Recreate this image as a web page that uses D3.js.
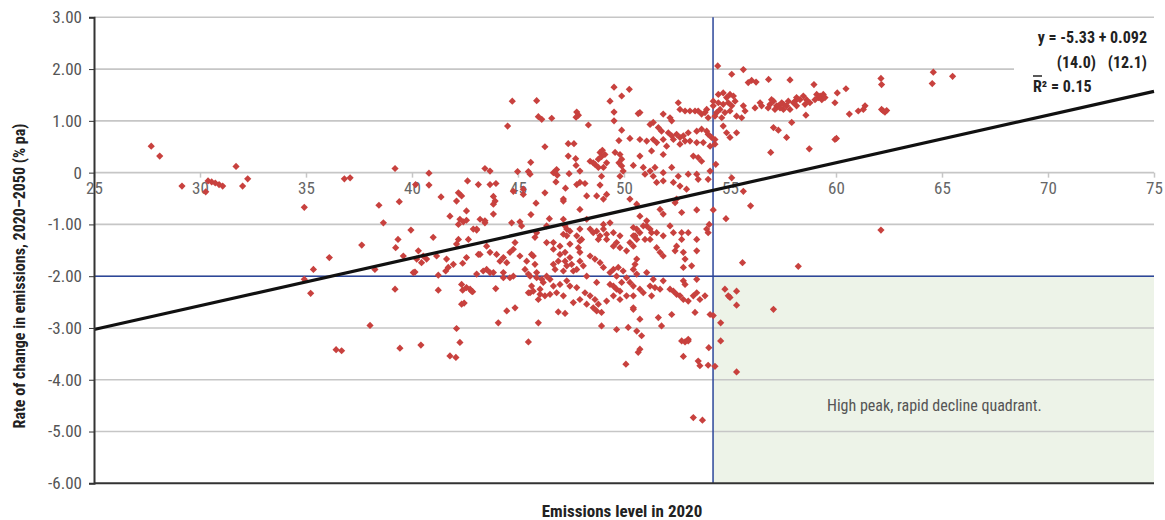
<!DOCTYPE html>
<html>
<head>
<meta charset="utf-8">
<script src="https://cdn.jsdelivr.net/npm/d3@7"></script>
<style>
  body { margin: 0; background: #fff; }
  svg text { font-family: "Liberation Sans Narrow", "Arial Narrow", "Roboto Condensed", sans-serif; }
</style>
</head>
<body>
<div id="chart"></div>
<script>
// axis ticks
const xTicks = [25, 30, 35, 40, 45, 50, 55, 60, 65, 70, 75];
const yTicks = [3, 2, 1, 0, -1, -2, -3, -4, -5, -6];

// regression + quadrant thresholds
const intercept = -5.33;
const slope = 0.092;
const threshX = 54.2;
const threshY = -2;

// emissions level in 2020 vs rate of change 2020-2050
const lowGroup = [
  [27.7,0.51],[28.1,0.32],[29.15,-0.26],[30.38,-0.16],[30.55,-0.18],[30.72,-0.2],[30.9,-0.23],[31.07,-0.26],
  [30.27,-0.37],[31.7,0.12],[32.01,-0.26],[32.25,-0.12],[34.92,-0.67],[36.81,-0.12],[37.08,-0.1],[39.2,0.08],
  [38.44,-0.63],[38.65,-0.97],[37.63,-1.4],[39.4,-0.56],[39.34,-1.29],[39.23,-1.45],[36.1,-1.64],[34.92,-2.06],
  [35.35,-1.87],[35.22,-2.33],[38.02,-2.95],[38.25,-1.87],[39.2,-2.25],[36.42,-3.42],[36.68,-3.44],[39.43,-3.39],
  [41.24,-2.27],[42.39,-2.27],[42.86,-2.3],[42.34,-2.54],[42.46,-2.52],[40.42,-3.33],[42.1,-3.01],[42.26,-3.28],
  [41.79,-3.54],[42.07,-3.57],[40.8,-0.01],[40.8,-0.24],[40.17,-0.23],[41.37,-0.47],[42.62,-0.16],[42.19,-0.39],
  [42.34,-0.45],[42.1,-0.55],[42.57,-0.74],[41.79,-0.84],[42.26,-0.9],[42.42,-0.95],[42.57,-0.92],[42.19,-1.0],
  [43.05,-1.11],[39.95,-1.11],[41.0,-1.25],[39.59,-1.61],[40.3,-1.51],[40.53,-1.61],[40.22,-1.67],[40.69,-1.67],
  [40.45,-1.74],[41.16,-1.61],[40.14,-1.92],[41.24,-1.98],[41.63,-1.67],[41.95,-1.77],[42.39,-1.75],[42.57,-1.64],
  [42.19,-1.29],[42.1,-1.38],[43.13,-1.58],[41.59,-1.9],[43.05,-1.96],[42.34,-2.16],[42.57,-2.22],[42.81,-2.29],
  [40.06,-1.93],[41.71,-1.83],[43.52,-1.87],[43.84,-1.93],[44.31,-1.93],[44.78,-2.0],[45.09,-1.61],[45.41,-1.71],
  [45.72,-1.61],[46.12,-2.06],[48.24,-2.0],[48.71,-2.12],[51.07,-1.93],[51.38,-2.06],[43.95,-2.24],[45.49,-3.27],
  [42.66,-1.29],[42.89,-1.09],[43.21,-0.9],[43.44,-0.97],[43.52,-1.42],[43.68,-1.54]
];

const midGroup = [
  [44.73,1.38],[45.88,1.39],[44.51,0.9],[45.96,1.08],[46.12,1.03],[46.59,1.05],[47.77,1.17],[47.85,1.11],
  [47.74,1.07],[48.32,0.92],[49.53,1.65],[50.25,1.61],[49.89,1.48],[49.34,1.38],[49.53,1.17],[49.53,1.0],
  [50.67,1.14],[49.89,0.82],[50.28,0.66],[49.76,0.62],[46.27,0.5],[47.37,0.56],[47.64,0.56],[47.37,0.32],
  [47.72,0.27],[47.74,0.14],[47.92,0.03],[45.6,0.2],[45.49,0.02],[45.57,-0.03],[44.98,0.02],[43.44,0.08],
  [43.68,0.03],[43.13,-0.23],[43.68,-0.23],[43.96,-0.21],[46.82,0.06],[46.85,-0.05],[47.41,-0.02],[47.77,-0.23],
  [47.92,-0.19],[48.16,-0.21],[48.4,0.22],[48.63,0.16],[48.79,0.26],[48.94,0.31],[49.1,0.35],[48.79,0.1],
  [49.03,0.1],[48.94,-0.07],[48.98,0.43],[49.58,0.39],[49.81,0.35],[49.89,0.26],[49.76,0.19],[49.89,0.13],
  [49.96,0.03],[49.81,-0.07],[50.44,0.14],[46.27,-0.39],[47.24,-0.3],[48.87,-0.24],[44.78,-0.36],[45.25,-0.42],
  [43.84,-0.46],[46.67,0.0],[46.79,-0.18],[48.87,0.39],[49.18,0.19],[48.55,0.19],[48.24,-0.45],[47.92,-0.71],
  [48.24,-0.9],[47.14,-0.51],[47.14,-0.9],[45.25,-0.32],
  [43.92,-0.55],[43.84,-0.61],[43.84,-0.8],[43.44,-0.93],[43.05,-1.09],[45.85,-0.59],[47.14,-0.55],[45.61,-0.81],
  [46.48,-0.89],[44.7,-0.97],[45.09,-0.95],[45.17,-1.03],[44.86,-1.35],[44.78,-1.48],[44.62,-1.54],[43.99,-1.58],
  [44.15,-1.71],[44.31,-1.64],[44.47,-1.74],[43.21,-1.58],[43.36,-1.9],[43.68,-1.93],[44.31,-2.03],[44.62,-2.03],
  [42.74,-2.25],[45.64,-1.58],[45.8,-1.77],[45.33,-1.87],[45.49,-1.96],[45.88,-1.93],[46.35,-1.35],[46.67,-1.48],
  [46.98,-1.58],[47.22,-1.54],[47.45,-1.64],[47.22,-1.71],[47.3,-1.8],[47.53,-1.77],[47.61,-1.9],[47.14,-1.9],
  [46.9,-1.71],[46.67,-1.77],[46.75,-1.87],[46.35,-2.0],[46.51,-2.06],[46.19,-2.12],[46.67,-2.19],[46.98,-2.16],
  [47.3,-2.09],[47.45,-2.19],[47.77,-2.22],[46.82,-2.32],[47.14,-2.38],[45.57,-2.0],[45.88,-2.03],[45.64,-2.19],
  [46.04,-2.25],[45.57,-2.32],[45.96,-2.45],[44.47,-2.67],[44.86,-2.61],[44.07,-2.9],[45.96,-2.9],[46.9,-2.69],
  [47.22,-2.72],[48.16,-2.32],[47.92,-2.45],[48.4,-2.38],[48.24,-2.54],[48.63,-2.45],[48.79,-2.54],[48.55,-2.61],
  [48.71,-2.67],[48.94,-2.7],[47.61,-2.51],[47.92,-1.71],[48.08,-1.8],[47.77,-1.87],[48.4,-1.61],[48.63,-1.67],
  [48.87,-1.74],[49.03,-1.83],[49.34,-1.93],[49.5,-1.87],[49.73,-1.83],[49.96,-1.9],[49.65,-2.0],[50.12,-2.03],
  [49.89,-2.12],[49.34,-2.16],[49.65,-2.25],[49.5,-2.38],[49.18,-2.48],[50.44,-1.87],[50.6,-1.96],[50.44,-2.38],
  [50.44,-2.64],[48.94,-2.96],[49.65,-3.03],[50.2,-2.99],[48.71,-0.45],[49.03,-0.51],[49.18,-0.42],[50.28,-0.51],
  [50.6,-0.61],[48.4,-1.09],[48.71,-1.13],[48.87,-1.22],[49.18,-1.29],[49.5,-1.16],[49.65,-1.35],[49.81,-1.45],
  [50.12,-1.51],[49.03,-1.0],[49.34,-0.97],[47.92,-1.32],[47.85,-1.45],[47.3,-1.09],[47.14,-1.19],[47.45,-1.38],
  [50.44,-1.06],[50.52,-1.22],[50.28,-1.35],[45.8,-1.25],[45.88,-1.16],[46.35,-1.03],[46.67,-1.35],[46.98,-1.42],
  [47.22,-1.03],[47.45,-1.13],[47.3,-1.22],[47.77,-1.22],[47.92,-1.09],[48.0,-1.29],[47.92,-1.54],[48.55,-1.16],
  [48.79,-1.29],[49.03,-1.09],[49.18,-1.19],[49.5,-1.42],[49.81,-1.22],[45.49,-2.32],[45.72,-2.29],[46.04,-2.35],
  [46.27,-2.38],[46.51,-2.35],[49.5,-2.19],[49.81,-2.29],[50.12,-2.38],[49.81,-2.45],[50.09,-3.7]
];

const highGroup = [
  [50.44,-1.42],[50.6,-1.29],[50.75,-1.16],[51.07,-1.03],[51.23,-1.29],[51.54,-1.16],[51.85,-1.22],[52.17,-1.03],
  [52.33,-1.16],[52.48,-1.42],[52.8,-1.54],[53.03,-1.16],[53.43,-1.29],[53.9,-1.09],
  [54.42,2.06],[55.08,1.9],[55.63,1.99],[55.86,1.74],[56.02,1.78],[56.23,1.75],[56.82,1.8],[57.83,1.79],
  [56.18,1.25],[56.49,1.29],[56.89,1.32],[57.05,1.38],[57.2,1.29],[57.44,1.35],[57.52,1.22],[57.67,1.29],
  [57.83,1.22],[58.07,1.38],[58.14,1.29],[57.05,0.87],[57.28,0.82],[57.91,0.97],[57.67,0.68],[56.92,0.39],
  [54.45,1.51],[54.68,1.54],[54.84,1.45],[55.0,1.51],[55.16,1.48],[54.45,1.35],[54.68,1.32],[54.92,1.35],
  [55.08,1.29],[55.24,1.38],[54.53,1.22],[54.76,1.16],[55.0,1.19],[55.31,1.09],[54.61,1.06],[54.37,1.16],
  [54.21,1.29],[54.29,1.09],[55.63,1.29],[55.71,1.19],[55.55,1.06],[54.68,0.9],[54.84,0.77],[55.0,0.68],
  [55.31,0.77],[54.29,0.55],[54.33,0.16],[55.08,-0.1],[55.63,-0.36],[54.21,1.38],
  [50.75,1.16],[51.85,1.13],[52.17,1.06],[52.25,1.0],[52.56,1.35],[52.64,1.22],[52.88,1.19],[53.11,1.19],
  [53.35,1.19],[53.5,1.19],[53.66,1.13],[53.82,1.16],[53.97,1.06],[53.9,1.22],
  [51.23,0.93],[51.38,0.97],[51.62,0.87],[51.77,0.8],[52.09,0.77],[52.25,0.71],[52.48,0.74],[52.64,0.68],
  [52.8,0.71],[53.03,0.77],[52.88,0.61],[53.43,0.8],[53.66,0.84],[53.9,0.8],[53.97,0.74],[54.13,0.68],
  [54.06,0.51],[54.29,0.64],[50.75,0.64],[51.07,0.61],[51.38,0.64],[51.54,0.58],[51.85,0.64],[52.01,0.51],
  [52.33,0.64],[52.64,0.55],[53.11,0.61],[53.43,0.58],[53.74,0.58],[50.75,0.32],[51.3,0.42],[51.85,0.35],
  [53.27,0.32],[53.5,0.29],[53.66,0.22],[50.91,0.1],[51.23,0.03],[51.46,0.1],[50.99,-0.03],[51.38,-0.07],
  [51.85,0.0],[52.25,0.1],[52.56,-0.07],[53.03,-0.03],[53.43,-0.03],[53.5,-0.13],[54.06,0.03],[53.97,-0.13],
  [51.54,-0.19],[51.85,-0.16],[52.33,-0.19],[52.64,-0.26],[52.95,-0.32],
  [51.7,-0.71],[51.85,-0.8],[52.72,-0.77],[53.43,-0.72],[54.21,-0.72],[52.41,-0.58],[52.48,-0.51],[54.81,-0.89],
  [55.97,-0.64],[50.75,-0.84],[51.07,-0.93],[50.91,-1.03],[51.23,-1.09],[50.6,-1.09],[50.44,-1.22],[50.99,-1.29],
  [51.3,-1.16],[52.72,-1.16],[52.72,-1.29],[54.02,-1.0],[53.97,-1.16],[51.54,-1.45],[51.7,-1.54],[51.85,-1.61],
  [52.41,-1.51],[53.43,-1.51],[50.6,-1.67],[50.52,-1.77],[52.88,-1.67],[52.8,-1.83],[53.19,-1.8],[55.59,-1.74],
  [58.22,-1.81],[50.28,-2.12],[50.44,-2.19],[50.75,-2.25],[50.91,-2.32],[51.23,-2.19],[51.46,-2.22],[51.7,-2.25],
  [51.85,-2.09],[52.17,-2.25],[52.33,-2.29],[52.48,-2.35],[52.64,-2.38],[52.8,-2.45],[53.03,-2.48],[53.27,-2.38],
  [53.43,-2.32],[53.58,-2.45],[53.82,-2.38],[52.8,-2.09],[52.88,-2.16],[53.43,-2.06],[51.3,-2.38],
  [50.44,-2.61],[50.75,-2.83],[51.62,-2.8],[51.77,-2.96],[52.25,-2.74],[53.35,-2.7],[54.06,-2.74],[54.21,-2.76],
  [50.6,-3.06],[50.83,-3.15],[53.03,-3.22],[50.75,-3.41],[50.67,-3.47],[52.72,-3.25],[52.88,-3.27],[53.03,-3.25],
  [52.8,-3.55],[53.5,-3.64],[53.58,-3.73],[53.97,-3.72],[54.29,-3.74],[54.0,-3.38],[54.56,-3.25],[53.27,-4.73],
  [53.7,-4.78],[55.31,-3.85],[54.76,-2.25],[54.92,-2.38],[55.0,-2.41],[55.31,-2.29],[55.31,-2.56],[57.05,-2.64],
  [54.56,-2.9]
];

const topGroup = [
  [64.59,1.94],[65.5,1.86],[64.54,1.72],[62.12,1.82],[62.15,1.7],[62.15,1.22],[62.23,1.19],[62.31,1.17],
  [62.39,1.2],[60.63,1.13],[61.05,1.19],[61.37,1.29],[61.29,1.22],[59.95,1.35],[60.06,1.54],[60.47,1.62],
  [58.96,1.7],[59.09,1.51],[59.25,1.48],[59.4,1.51],[59.33,1.41],[59.17,1.45],[59.48,1.45],[59.01,1.41],
  [56.42,1.35],[56.8,1.25],[57.28,1.29],[57.52,1.32],[57.75,1.38],[57.99,1.35],[58.14,1.45],[58.3,1.41],
  [58.46,1.48],[58.61,1.41],[58.54,1.32],[58.77,1.35],[57.12,1.22],[57.36,1.25],[56.96,1.41],[58.58,1.11],
  [59.95,0.64],[60.02,0.66],[58.74,0.46],[62.12,-1.11]
];

const points = lowGroup.concat(midGroup, highGroup, topGroup);

const W = 1165, H = 520;
const svg = d3.select("#chart").append("svg")
    .attr("width", W)
    .attr("height", H);

const x = d3.scaleLinear().domain([25, 75]).range([94, 1154]);
const y = d3.scaleLinear().domain([-6, 3]).range([483.3, 17.3]);

// shaded quadrant
svg.append("rect")
    .attr("x", x(threshX))
    .attr("y", y(threshY))
    .attr("width", x(75) - x(threshX))
    .attr("height", y(-6) - y(threshY))
    .attr("fill", "#edf3e8");

// gridlines
svg.append("g").selectAll("line")
    .data(yTicks.filter(d => d > -6))
  .enter().append("line")
    .attr("x1", x(25))
    .attr("x2", x(75))
    .attr("y1", d => y(d))
    .attr("y2", d => y(d))
    .attr("stroke", "#c6c6c6")
    .attr("stroke-width", 1.6);

// x axis sits on the zero line
const xAxis = svg.append("g")
    .attr("transform", "translate(0," + y(0) + ")")
    .call(d3.axisBottom(x).tickValues(xTicks).tickSize(5).tickPadding(4).tickFormat(d => String(d)));
xAxis.select(".domain").remove();
xAxis.selectAll("line").attr("stroke", "#c6c6c6").attr("stroke-width", 1.5);
xAxis.selectAll("text").attr("fill", "#666").style("font-size", "17px");

// quadrant lines
svg.append("line")
    .attr("x1", x(25)).attr("x2", x(75))
    .attr("y1", y(threshY)).attr("y2", y(threshY))
    .attr("stroke", "#2c469a").attr("stroke-width", 1.5);
svg.append("line")
    .attr("x1", x(threshX)).attr("x2", x(threshX))
    .attr("y1", y(3)).attr("y2", y(-6))
    .attr("stroke", "#2c469a").attr("stroke-width", 1.5);

// points
svg.append("g").selectAll("path")
    .data(points)
  .enter().append("path")
    .attr("d", d3.symbol().type(d3.symbolSquare).size(26))
    .attr("transform", d => "translate(" + x(d[0]) + "," + y(d[1]) + ") rotate(45)")
    .attr("fill", "#c8413e");

// equation box (sits under the regression line)
svg.append("rect")
    .attr("x", 1014).attr("y", 26)
    .attr("width", 146).attr("height", 62)
    .attr("fill", "#fff");

// regression line
svg.append("line")
    .attr("x1", x(25)).attr("y1", y(intercept + slope * 25))
    .attr("x2", x(75)).attr("y2", y(intercept + slope * 75))
    .attr("stroke", "#111").attr("stroke-width", 3.2);

// y axis
const yAxis = svg.append("g")
    .attr("transform", "translate(" + x(25) + ",0)")
    .call(d3.axisLeft(y).tickValues(yTicks).tickSize(5).tickPadding(7)
        .tickFormat(d => d === 0 ? "0" : d.toFixed(2)));
yAxis.select(".domain").attr("stroke", "#333").attr("stroke-width", 2);
yAxis.selectAll("line").attr("stroke", "#333");
yAxis.selectAll("text").attr("fill", "#555").style("font-size", "17px");

// bottom frame line
svg.append("line")
    .attr("x1", x(25)).attr("x2", x(75))
    .attr("y1", y(-6)).attr("y2", y(-6))
    .attr("stroke", "#333").attr("stroke-width", 2);

const eq = svg.append("g").attr("font-weight", "bold").attr("fill", "#222").style("font-size", "16px");
eq.append("text").attr("x", 1147).attr("y", 43).attr("text-anchor", "end").text("y = -5.33 + 0.092");
eq.append("text").attr("x", 1096).attr("y", 68).attr("text-anchor", "end").text("(14.0)");
eq.append("text").attr("x", 1147).attr("y", 68).attr("text-anchor", "end").text("(12.1)");
eq.append("text").attr("x", 1033).attr("y", 92).text("R\u00B2 = 0.15");
svg.append("line")
    .attr("x1", 1033).attr("x2", 1042)
    .attr("y1", 76).attr("y2", 76)
    .attr("stroke", "#222").attr("stroke-width", 1.5);

// quadrant label
svg.append("text")
    .attr("x", 827).attr("y", 411)
    .attr("fill", "#555")
    .style("font-size", "16px")
    .text("High peak, rapid decline quadrant.");

// axis titles
svg.append("text")
    .attr("x", x(50) - 2).attr("y", 517)
    .attr("text-anchor", "middle")
    .attr("font-weight", "bold")
    .attr("fill", "#222")
    .style("font-size", "17px")
    .text("Emissions level in 2020");

svg.append("text")
    .attr("transform", "translate(25,276) rotate(-90)")
    .attr("text-anchor", "middle")
    .attr("font-weight", "bold")
    .attr("fill", "#222")
    .style("font-size", "16px")
    .text("Rate of change in emissions, 2020\u20132050 (% pa)");
</script>
</body>
</html>
